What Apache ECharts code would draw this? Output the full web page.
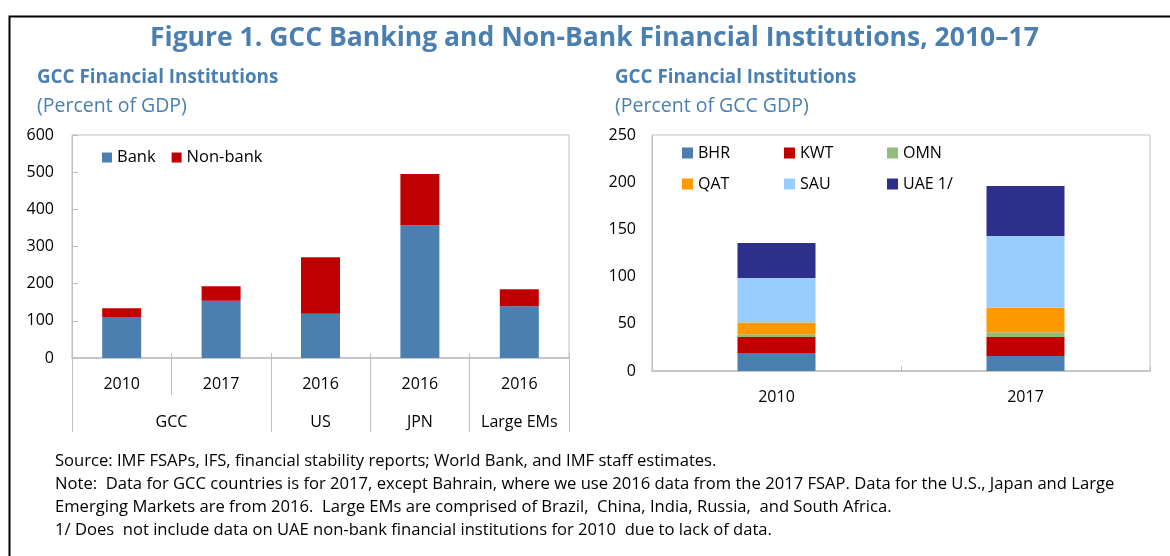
<!DOCTYPE html>
<html>
<head>
<meta charset="utf-8">
<script src="https://cdn.jsdelivr.net/npm/echarts@6/dist/echarts.min.js"></script>
<style>
  html, body { margin: 0; padding: 0; background: #fff; }
  #chart { width: 1170px; height: 556px; }
</style>
</head>
<body>
<div id="chart"></div>
<script>
// left panel: percent of GDP
var yearLabels = ['2010', '2017', '2016', '2016', '2016'];
var groupLabels = ['GCC', 'US', 'JPN', 'Large EMs'];
var groupCenters = [1, 2.5, 3.5, 4.5];
var groupEdges = [0, 2, 3, 4, 5];
var bank = [110, 154, 119, 357, 139];
var nonBank = [24, 39, 152, 138, 46];

// right panel: percent of GCC GDP
var gccYears = ['2010', '2017'];
var bhr = [19, 16];
var kwt = [17, 20];
var omn = [3, 5];
var qat = [12.5, 26];
var sau = [47, 76];
var uae = [37, 53];

var FONT = 'Open Sans';
var BLUE = '#4a7fb0';
var GRIDC = '#bfbfbf';

var Fig = {
	init: function () {
		var myChart = echarts.init(document.getElementById('chart'));
		myChart.setOption(Fig.option(), true);
	},

	countryLegend: function (name, left, top) {
		return {
			data: [name], left: left, top: top, padding: 0,
			itemWidth: 11, itemHeight: 11, icon: 'rect',
			textStyle: { fontFamily: FONT, fontSize: 16, color: '#000' }
		};
	},

	option: function () {
		var countries = [
			['BHR', bhr, '#4a7fb0'],
			['KWT', kwt, '#c00000'],
			['OMN', omn, '#93bd78'],
			['QAT', qat, '#ff9900'],
			['SAU', sau, '#99ccff'],
			['UAE 1/', uae, '#2e2f8a']
		];
		var series = [
			{ name: 'Bank', type: 'bar', stack: 'l', xAxisIndex: 0, yAxisIndex: 0, barWidth: 39,
			  itemStyle: { color: BLUE }, data: bank },
			{ name: 'Non-bank', type: 'bar', stack: 'l', xAxisIndex: 0, yAxisIndex: 0, barWidth: 39,
			  itemStyle: { color: '#c00000' }, data: nonBank }
		];
		countries.forEach(function (c) {
			series.push({ name: c[0], type: 'bar', stack: 'r', xAxisIndex: 3, yAxisIndex: 1, barWidth: 78,
				itemStyle: { color: c[2] }, data: c[1] });
		});

		return {
			animation: false,
			textStyle: { fontFamily: FONT },
			title: [
				{ text: 'Figure 1. GCC Banking and Non-Bank Financial Institutions, 2010\u201317', left: 150, top: 25, padding: 0,
				  textStyle: { fontFamily: FONT, fontSize: 26.5, fontWeight: 'bold', color: BLUE } },
				{ text: 'GCC Financial Institutions', left: 37, top: 68, padding: 0,
				  textStyle: { fontFamily: FONT, fontSize: 18.8, fontWeight: 'bold', color: BLUE } },
				{ text: '(Percent of GDP)', left: 37, top: 96, padding: 0,
				  textStyle: { fontFamily: FONT, fontSize: 19.5, fontWeight: 'normal', color: BLUE } },
				{ text: 'GCC Financial Institutions', left: 615, top: 68, padding: 0,
				  textStyle: { fontFamily: FONT, fontSize: 18.8, fontWeight: 'bold', color: BLUE } },
				{ text: '(Percent of GCC GDP)', left: 615, top: 96, padding: 0,
				  textStyle: { fontFamily: FONT, fontSize: 19.5, fontWeight: 'normal', color: BLUE } },
				{ text: 'Source: IMF FSAPs, IFS, financial stability reports; World Bank, and IMF staff estimates.\n' +
						'Note:  Data for GCC countries is for 2017, except Bahrain, where we use 2016 data from the 2017 FSAP. Data for the U.S., Japan and Large\n' +
						'Emerging Markets are from 2016.  Large EMs are comprised of Brazil,  China, India, Russia,  and South Africa.\n' +
						'1/ Does  not include data on UAE non-bank financial institutions for 2010  due to lack of data.',
				  left: 55, top: 450, padding: 0,
				  textStyle: { fontFamily: FONT, fontSize: 16.6, fontWeight: 'normal', color: '#000', lineHeight: 23 } }
			],
			legend: [
				{ data: ['Bank', 'Non-bank'], left: 102, top: 149, padding: 0, itemWidth: 10, itemHeight: 10, itemGap: 16,
				  icon: 'rect', textStyle: { fontFamily: FONT, fontSize: 16.5, color: '#000' } },
				Fig.countryLegend('BHR', 682, 145),
				Fig.countryLegend('KWT', 784, 145),
				Fig.countryLegend('OMN', 887, 145),
				Fig.countryLegend('QAT', 682, 176),
				Fig.countryLegend('SAU', 784, 176),
				Fig.countryLegend('UAE 1/', 887, 176)
			],
			grid: [
				{ left: 72, top: 135, width: 497, height: 223, show: true, borderColor: GRIDC, borderWidth: 1 },
				{ left: 652, top: 135, width: 498, height: 236, show: true, borderColor: GRIDC, borderWidth: 1 }
			],
			xAxis: [
				{ type: 'category', gridIndex: 0, data: yearLabels, position: 'bottom',
				  axisLine: { lineStyle: { color: GRIDC, width: 1.5 } },
				  axisTick: { show: true, interval: 0, length: 37, lineStyle: { color: GRIDC } },
				  axisLabel: { interval: 0, margin: 18, fontSize: 16, color: '#000' } },
				{ type: 'value', gridIndex: 0, min: 0, max: 5, position: 'bottom', offset: 37,
				  axisLine: { show: false }, splitLine: { show: false },
				  axisTick: { show: true, customValues: groupEdges, length: 37, lineStyle: { color: GRIDC } },
				  axisLabel: { customValues: groupCenters, margin: 19, fontSize: 16, color: '#000',
					formatter: function (v) { return groupLabels[groupCenters.indexOf(v)]; } } },
				{ type: 'category', gridIndex: 0, data: yearLabels, position: 'bottom',
				  axisLine: { show: false }, axisLabel: { show: false },
				  axisTick: { show: true, inside: true, interval: 0, length: 5, lineStyle: { color: GRIDC } } },
				{ type: 'category', gridIndex: 1, data: gccYears,
				  axisLine: { lineStyle: { color: GRIDC, width: 1.5 } },
				  axisTick: { show: true, inside: true, length: 5, lineStyle: { color: GRIDC } },
				  axisLabel: { margin: 18, fontSize: 16, color: '#000' } }
			],
			yAxis: [
				{ type: 'value', gridIndex: 0, min: 0, max: 600, interval: 100,
				  axisLine: { show: true, lineStyle: { color: GRIDC } },
				  axisTick: { show: true, inside: true, length: 6, lineStyle: { color: GRIDC } },
				  splitLine: { show: false },
				  axisLabel: { margin: 18, fontSize: 16, color: '#000' } },
				{ type: 'value', gridIndex: 1, min: 0, max: 250, interval: 50,
				  axisLine: { show: true, lineStyle: { color: GRIDC } },
				  axisTick: { show: false }, splitLine: { show: false },
				  axisLabel: { margin: 16, fontSize: 16, color: '#000' } }
			],
			graphic: [
				{ type: 'rect', left: 7, top: 14, shape: { width: 1200, height: 600 },
				  style: { fill: 'none', stroke: '#000', lineWidth: 2 }, silent: true }
			],
			series: series
		};
	}
};

Fig.init();
</script>
</body>
</html>
